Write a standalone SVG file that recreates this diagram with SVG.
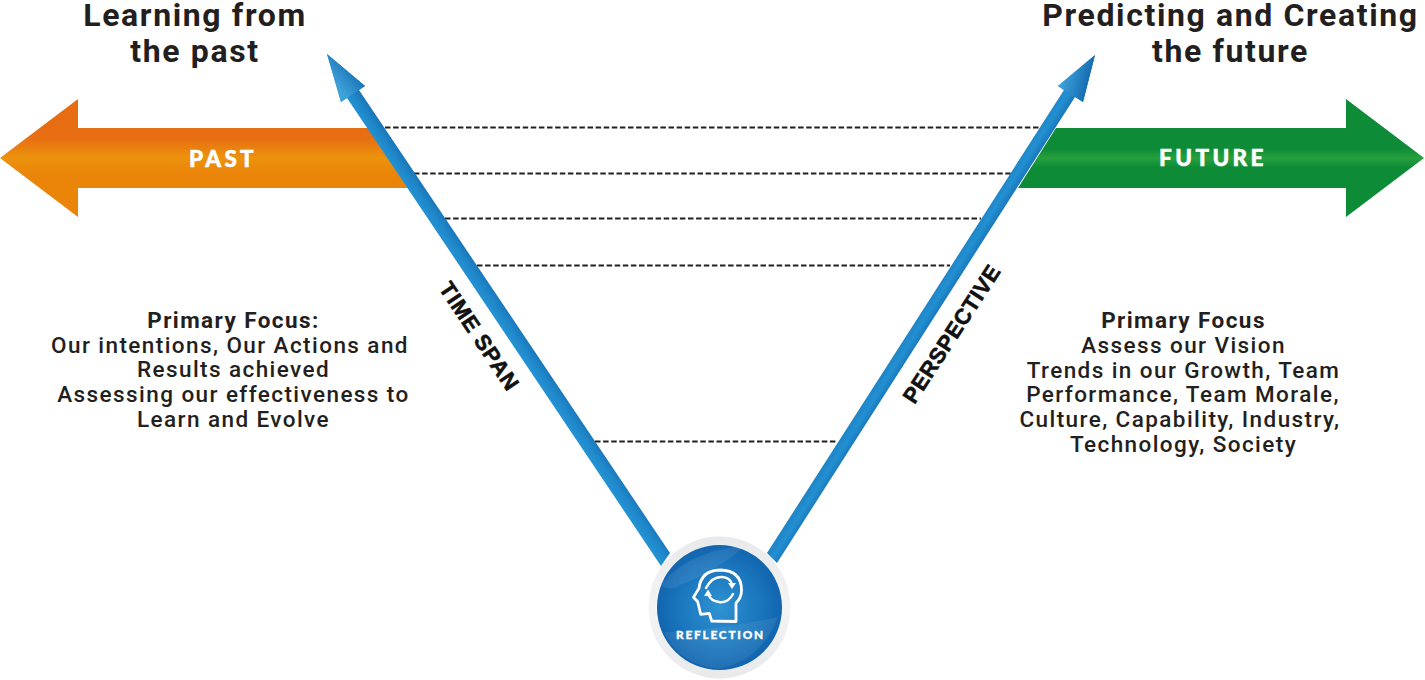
<svg xmlns="http://www.w3.org/2000/svg" width="1425" height="680" viewBox="0 0 1425 680">
<style>
.h{font-family:Roboto,"Liberation Sans",sans-serif;font-size:32px;font-weight:700;fill:#231f20;text-anchor:middle;letter-spacing:1.62px}
.b{font-family:Roboto,"Liberation Sans",sans-serif;font-size:22.5px;font-weight:500;fill:#231f20;text-anchor:middle;letter-spacing:1.42px}
.pf{font-weight:700}
.l{font-family:Lato,"Liberation Sans",sans-serif;font-weight:900;fill:#fff;stroke:#fff;stroke-width:.5;text-anchor:middle}
.a{font-family:"Liberation Sans",Arial,sans-serif;font-weight:700;font-size:22px;fill:#111;stroke:#111;stroke-width:.6;text-anchor:middle}
.d{stroke:#231f20;stroke-width:1.8;stroke-dasharray:5.5 2.6;fill:none}
</style>
<defs>
<linearGradient id="og" x1="0" y1="99" x2="0" y2="217" gradientUnits="userSpaceOnUse"><stop offset="0" stop-color="#e76b12"/><stop offset=".33" stop-color="#e76e12"/><stop offset=".5" stop-color="#ec930c"/><stop offset=".62" stop-color="#ea8509"/><stop offset="1" stop-color="#ea8509"/></linearGradient>
<linearGradient id="gg" x1="0" y1="99" x2="0" y2="217" gradientUnits="userSpaceOnUse"><stop offset="0" stop-color="#0d8b37"/><stop offset=".42" stop-color="#0d8b37"/><stop offset=".5" stop-color="#27a03e"/><stop offset=".58" stop-color="#0d8b37"/><stop offset="1" stop-color="#0d8b37"/></linearGradient>
<linearGradient id="bl1" gradientUnits="userSpaceOnUse" x1="502.800" y1="331.200" x2="515.200" y2="322.800"><stop offset="0" stop-color="#2493d3"/><stop offset=".55" stop-color="#1f88ca"/><stop offset="1" stop-color="#1a78bc"/></linearGradient>
<linearGradient id="bl2" gradientUnits="userSpaceOnUse" x1="919.700" y1="313" x2="932.300" y2="321"><stop offset="0" stop-color="#1f84c6"/><stop offset=".5" stop-color="#2290d1"/><stop offset="1" stop-color="#1a78bc"/></linearGradient>
<linearGradient id="hl" gradientUnits="userSpaceOnUse" x1="362" y1="72" x2="340" y2="90"><stop offset="0" stop-color="#1269ae"/><stop offset="1" stop-color="#3ea2da"/></linearGradient>
<linearGradient id="hr" gradientUnits="userSpaceOnUse" x1="1090" y1="85" x2="1062" y2="78"><stop offset="0" stop-color="#1269ae"/><stop offset="1" stop-color="#3ea2da"/></linearGradient>
<radialGradient id="disc" cx=".5" cy=".5" r=".55"><stop offset="0" stop-color="#2f92d2"/><stop offset=".6" stop-color="#1a76bd"/><stop offset="1" stop-color="#1060aa"/></radialGradient>
<linearGradient id="ring" x1="0" y1="0" x2="0" y2="1"><stop offset="0" stop-color="#e8e9ea"/><stop offset=".5" stop-color="#f4f4f5"/><stop offset="1" stop-color="#e8e9ea"/></linearGradient>
</defs>

<g id="past-arrow">
<polygon points="0,158 78,99 78,128 368,128 408,188 78,188 78,217" fill="url(#og)"/>
<text class="l" x="223" y="166.500" font-size="22.500" letter-spacing="3.300">PAST</text>
</g>
<g id="future-arrow">
<polygon points="1424,158 1346,99 1346,128 1056,128 1018,188 1346,188 1346,217" fill="url(#gg)"/>
<text class="l" x="1213" y="165.500" font-size="22.500" letter-spacing="3.400">FUTURE</text>
</g>

<g id="connectors">
<line class="d" x1="385" y1="127.500" x2="1041" y2="127.500"/>
<line class="d" x1="414" y1="173.500" x2="1011" y2="173.500"/>
<line class="d" x1="445" y1="218.500" x2="981" y2="218.500"/>
<line class="d" x1="477" y1="265.500" x2="950" y2="265.500"/>
<line class="d" x1="595" y1="441.500" x2="838" y2="441.500"/>
<polygon id="time-span-arrow" points="670,553 661,566 347,98 341,102 327,54 365,86 359,90" fill="url(#bl1)"/>
<polygon points="327,54 365,86 359,90 347,98 341,102" fill="url(#hl)"/>
<polygon id="perspective-arrow" points="767,553 777,563 1075,97 1083,102 1095,55 1058,86 1064,90" fill="url(#bl2)"/>
<polygon points="1095,55 1058,86 1064,90 1075,97 1083,102" fill="url(#hr)"/>
</g>

<g id="title-past">
<text class="h" x="195" y="26">Learning from</text>
<text class="h" x="195" y="61.500">the past</text>
</g>
<g id="title-future">
<text class="h" x="1230.500" y="26">Predicting and Creating</text>
<text class="h" x="1230.500" y="61.500">the future</text>
</g>

<g id="label-time-span"><text class="a" transform="translate(473,340.500) rotate(56.300)" x="0" y="0" letter-spacing=".8">TIME SPAN</text></g>
<g id="label-perspective"><text class="a" transform="translate(958,338) rotate(-57)" x="0" y="0" letter-spacing=".5">PERSPECTIVE</text></g>

<g id="focus-past">
<text class="b pf" x="233.500" y="328">Primary Focus:</text>
<text class="b" x="230" y="353">Our intentions, Our Actions and</text>
<text class="b" x="233.500" y="377">Results achieved</text>
<text class="b" x="233.500" y="402"> Assessing our effectiveness to</text>
<text class="b" x="233.500" y="427">Learn and Evolve</text>
</g>
<g id="focus-future">
<text class="b pf" x="1183.500" y="328">Primary Focus</text>
<text class="b" x="1183.500" y="353">Assess our Vision</text>
<text class="b" x="1183.500" y="378">Trends in our Growth, Team</text>
<text class="b" x="1183" y="402">Performance, Team Morale,</text>
<text class="b" x="1180" y="427">Culture, Capability, Industry,</text>
<text class="b" x="1183.500" y="452">Technology, Society</text>
</g>

<g id="reflection">
<circle cx="719.500" cy="607.500" r="71" fill="url(#ring)"/>
<circle cx="719.500" cy="607.500" r="62.500" fill="url(#disc)"/>
<path d="M660,585 Q690,550 745,546 Q715,572 680,585 Q670,592 660,585Z" fill="#fff" opacity=".08"/>
<path d="M664,632 Q720,630 778,617 Q762,660 719,669 Q680,665 664,632Z" fill="#fff" opacity=".07"/>
<g fill="none" stroke="#fff" stroke-width="2.800" stroke-linejoin="round" stroke-linecap="round">
<path d="M736,621.500 L711.700,621 L709.300,613.300 L700.700,614.300 L697.700,601.700 L693.500,597.300 L699,588.300 Q701,570.500 720,570 Q741.500,570.500 741.500,590 Q741.500,598 736,603 Z"/>
<path d="M706,588 Q712,576.500 722,577 Q730,577.500 732,584" stroke-width="2.400"/>
<path d="M733,594 Q728,603.500 719,602 Q711,601 708.500,595" stroke-width="2.400"/>
</g>
<polygon points="728,583 736,583 732,589" fill="#fff"/>
<polygon points="704,596 712,596 708,589.500" fill="#fff"/>
<text class="l" x="720.500" y="639" font-size="11.800" letter-spacing="1.800" style="stroke-width:.3">REFLECTION</text>
</g>
</svg>
